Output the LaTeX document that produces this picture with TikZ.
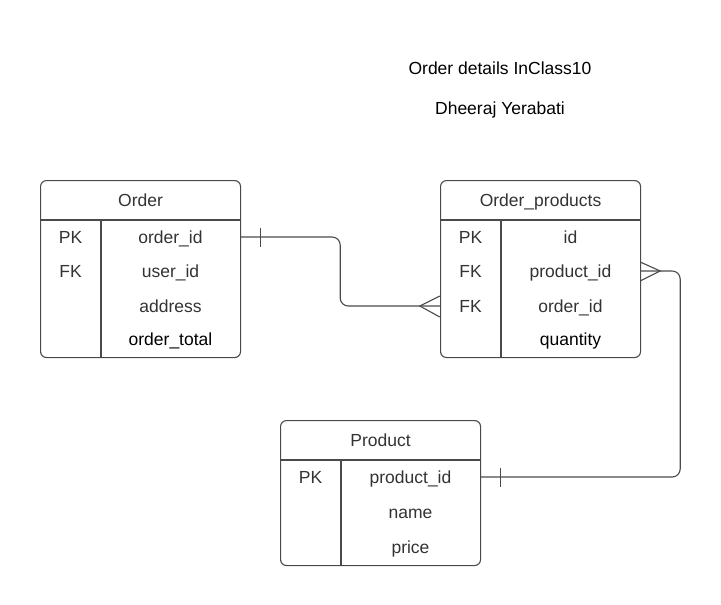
\documentclass[tikz,border=0pt]{standalone}
\usepackage{fontspec}
\setmainfont{Liberation Sans}
\usetikzlibrary{calc}
\definecolor{linec}{HTML}{4A4A4A}
\definecolor{txtc}{HTML}{333333}
\begin{document}
\begin{tikzpicture}[x=1pt,y=1pt,
  tbl/.style={draw=linec, line width=1.1pt, rounded corners=6pt, anchor=north west, inner sep=0pt},
  ln/.style={draw=linec, line width=1.1pt},
  conn/.style={draw=linec, line width=1.1pt},
  txt/.style={text=txtc, font=\fontsize{17.5}{20}\selectfont, inner sep=0pt, text height=15pt, text depth=2pt},
  hdr/.style={txt},
  key/.style={txt, minimum width=61pt},
  fld/.style={txt, minimum width=139pt},
  ttl/.style={text=black, font=\fontsize{17.5}{20}\selectfont, inner sep=0pt, text height=15pt, text depth=2pt}]
\useasboundingbox (0,0) rectangle (721,-605);

% titles
\node[ttl] (t1) at (500,-68) {Order details InClass10};
\node[ttl] (t2) at (500,-108) {Dheeraj Yerabati};

% Order table
\node[tbl, minimum width=200pt, minimum height=177pt] (order) at (40,-180) {};
\draw[ln] ($(order.north west)+(0,-40)$) -- ($(order.north east)+(0,-40)$);
\draw[ln] ($(order.north west)+(61,-40)$) -- ($(order.south west)+(61,0)$);
\node[hdr] (orderh) at ($(order.north)+(0,-20)$) {Order};
\node[key] (ok1) at (70.5,-237) {PK};
\node[fld] (of1) at (170.5,-237) {order\_id};
\node[key] (ok2) at (70.5,-271) {FK};
\node[fld] (of2) at (170.5,-271) {user\_id};
\node[fld] (of3) at (170.5,-306) {address};
\node[fld, text=black] (of4) at (170.5,-339) {order\_total};

% Order_products table
\node[tbl, minimum width=200pt, minimum height=177pt] (op) at (440,-180) {};
\draw[ln] ($(op.north west)+(0,-40)$) -- ($(op.north east)+(0,-40)$);
\draw[ln] ($(op.north west)+(61,-40)$) -- ($(op.south west)+(61,0)$);
\node[hdr] (oph) at ($(op.north)+(0,-20)$) {Order\_products};
\node[key] (pk1) at (470.5,-237) {PK};
\node[fld] (pf1) at (570.5,-237) {id};
\node[key] (pk2) at (470.5,-271) {FK};
\node[fld] (pf2) at (570.5,-271) {product\_id};
\node[key] (pk3) at (470.5,-306) {FK};
\node[fld] (pf3) at (570.5,-306) {order\_id};
\node[fld, text=black] (pf4) at (570.5,-339) {quantity};

% Product table
\node[tbl, minimum width=200pt, minimum height=145pt] (pr) at (280,-420) {};
\draw[ln] ($(pr.north west)+(0,-40)$) -- ($(pr.north east)+(0,-40)$);
\draw[ln] ($(pr.north west)+(61,-40)$) -- ($(pr.south west)+(61,0)$);
\node[hdr] (prh) at ($(pr.north)+(0,-20)$) {Product};
\node[key] (rk1) at (310.5,-477) {PK};
\node[fld] (rf1) at (410.5,-477) {product\_id};
\node[fld] (rf2) at (410.5,-512) {name};
\node[fld] (rf3) at (410.5,-547) {price};

% connector Order.order_id -> Order_products.order_id
\draw[conn, rounded corners=8pt] (of1.east) -- ++(100,0) |- (pk3.west);
\draw[conn] ($(of1.east)+(20,-9.5)$) -- ($(of1.east)+(20,9.5)$);
\draw[conn] ($(pk3.west)+(0,10)$) -- ($(pk3.west)+(-20,0)$) -- ($(pk3.west)+(0,-11)$);

% connector Order_products.product_id -> Product.product_id
\draw[conn, rounded corners=8pt] (pf2.east) -- ++(40,0) |- (rf1.east);
\draw[conn] ($(pf2.east)+(0,9)$) -- ($(pf2.east)+(20,0)$) -- ($(pf2.east)+(0,-10)$);
\draw[conn] ($(rf1.east)+(20,-9.5)$) -- ($(rf1.east)+(20,9.5)$);
\end{tikzpicture}
\end{document}
